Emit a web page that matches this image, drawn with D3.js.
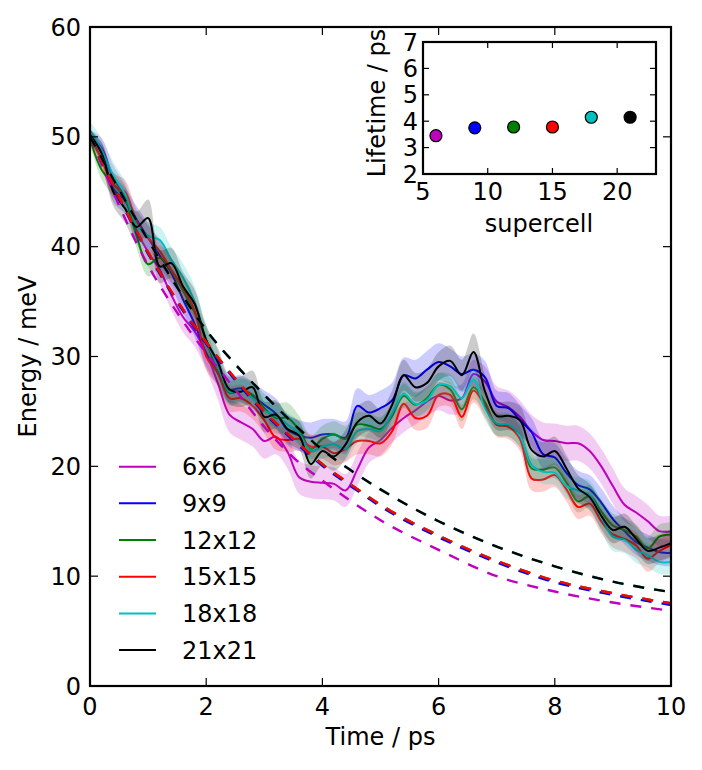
<!DOCTYPE html>
<html><head><meta charset="utf-8">
<script src="https://cdn.jsdelivr.net/npm/d3@7"></script>
<style>body{margin:0;background:#fff}svg{display:block}text{font-family:"DejaVu Sans",sans-serif;fill:#000}</style>
</head><body>
<script>
const times = [0,0.2,0.4,0.6,0.8,1,1.2,1.4,1.6,1.8,2,2.2,2.4,2.6,2.8,3,3.2,3.4,3.6,3.8,4,4.2,4.4,4.6,4.8,5,5.2,5.4,5.6,5.8,6,6.2,6.4,6.6,6.8,7,7.2,7.4,7.6,7.8,8,8.2,8.4,8.6,8.8,9,9.2,9.4,9.6,9.8,10];
const labels = ["6x6","9x9","12x12","15x15","18x18","21x21"];
const colors = ["#bf00bf","#0000ff","#008000","#ff0000","#00bfbf","#000000"];
const e6  = [50.0,49.0,46.3,44.5,41.5,39.5,37.9,35.6,33.6,32.3,30.3,27.6,24.7,24.0,23.4,22.3,22.7,21.3,19.0,18.6,18.5,18.4,17.8,19.7,21.7,22.4,23.5,24.4,25.1,25.9,26.4,26.0,26.2,28.4,27.7,25.9,25.4,24.5,23.2,22.4,22.3,22.1,22.1,21.4,20.0,18.2,16.5,15.8,15.0,14.1,14.1];
const e9  = [50.0,48.6,45.3,44.2,42.5,40.8,39.2,37.6,35.2,33.0,30.3,28.6,27.0,27.1,26.4,25.6,24.8,23.3,22.8,22.6,22.9,22.9,22.6,25.5,24.9,25.3,26.0,28.3,28.0,28.8,29.5,29.1,28.4,28.8,28.1,25.5,25.3,24.2,23.1,21.1,20.8,19.4,18.3,17.9,16.7,15.2,14.1,13.1,12.6,12.2,12.1];
const e12 = [49.8,47.0,45.7,44.4,41.0,38.4,39.0,37.8,36.0,34.0,31.5,28.5,26.7,26.9,26.5,25.3,24.4,24.4,23.3,21.6,22.5,22.9,22.5,23.8,23.7,23.4,24.6,26.4,25.6,26.2,27.4,27.0,25.2,27.2,25.8,23.8,23.7,22.8,19.8,19.7,19.9,18.5,16.8,17.3,15.9,14.6,14.2,13.6,12.5,13.6,13.8];
const e15 = [50.0,48.0,45.6,45.0,42.3,40.8,39.6,37.9,36.3,34.2,30.0,28.5,26.2,26.2,25.5,24.2,22.6,22.4,22.5,21.8,21.8,21.2,21.6,22.3,22.3,22.1,23.2,25.7,24.4,24.6,26.5,26.5,24.5,26.9,25.5,23.8,23.6,22.5,18.9,18.8,19.2,17.9,16.3,16.6,15.0,13.8,13.4,12.8,11.6,12.3,12.8];
const e18 = [50.6,48.8,46.5,44.8,42.0,41.0,40.6,38.8,37.2,35.0,31.5,29.2,26.8,26.9,26.2,25.1,24.6,23.8,23.0,21.4,21.8,22.0,21.6,23.2,23.4,23.2,24.8,26.6,25.7,26.0,27.4,27.3,26.2,27.9,25.3,23.9,23.8,22.8,20.1,19.5,19.4,18.2,17.8,17.4,15.4,13.6,13.3,12.4,11.9,11.3,11.3];
const e21 = [50.2,48.5,45.0,43.5,41.8,42.6,38.2,38.5,36.4,34.8,31.5,29.5,27.0,26.8,27.2,24.5,24.7,23.4,22.8,20.2,21.4,20.9,22.0,24.0,24.6,23.9,25.6,28.3,27.2,27.6,29.1,29.6,28.3,30.4,26.8,24.6,24.6,24.2,21.5,20.9,21.4,19.8,18.0,17.2,15.5,14.2,14.5,13.4,12.3,12.6,13.0];
const err6  = [0.6,0.9,1.1,1.2,1.2,1.3,1.3,1.4,1.4,1.4,1.5,1.5,1.6,1.6,1.6,1.6,1.6,1.5,1.5,1.5,1.5,1.5,1.5,1.5,1.4,1.4,1.3,1.3,1.3,1.3,1.3,1.3,1.3,1.3,1.4,1.4,1.5,1.5,1.5,1.6,1.6,1.6,1.6,1.6,1.6,1.6,1.5,1.5,1.5,1.4,1.4];
const err9  = [0.5,0.9,1.2,1.2,1.2,1.3,1.3,1.3,1.2,1.2,1.2,1.2,1.2,1.2,1.3,1.3,1.4,1.4,1.4,1.4,1.4,1.4,1.5,1.6,1.6,1.6,1.6,1.6,1.7,1.7,1.7,1.6,1.6,1.5,1.5,1.4,1.4,1.4,1.3,1.3,1.3,1.3,1.3,1.3,1.3,1.2,1.2,1.2,1.2,1.2,1.2];
const err12 = [0.5,0.9,1.1,1.1,1.1,1.1,1.1,1.1,1.1,1.1,1.1,1.1,1.1,1.1,1.2,1.3,1.4,1.4,1.3,1.2,1.2,1.2,1.2,1.1,1.1,1.1,1.1,1.1,1.1,1.1,1.1,1.1,1.1,1.1,1.1,1.0,1.0,1.0,1.0,1.0,1.0,1.0,1.0,1.0,1.1,1.1,1.1,1.1,1.1,1.1,1.1];
const err15 = [0.5,0.9,1.1,1.1,1.1,1.1,1.1,1.1,1.1,1.1,1.2,1.2,1.2,1.2,1.2,1.2,1.1,1.1,1.1,1.1,1.1,1.1,1.2,1.2,1.2,1.2,1.2,1.1,1.1,1.1,1.1,1.1,1.1,1.1,1.1,1.1,1.1,1.1,1.1,1.1,1.1,1.1,1.1,1.1,1.1,1.2,1.2,1.2,1.2,1.1,1.1];
const err18 = [0.8,1.1,1.2,1.2,1.2,1.2,1.2,1.2,1.3,1.4,1.4,1.4,1.3,1.2,1.2,1.2,1.2,1.1,1.1,1.1,1.1,1.1,1.1,1.1,1.1,1.1,1.1,1.1,1.1,1.1,1.1,1.1,1.1,1.1,1.1,1.1,1.1,1.1,1.1,1.1,1.1,1.1,1.2,1.3,1.3,1.3,1.2,1.2,1.1,1.1,1.1];
const err21 = [0.5,1.0,1.3,1.3,1.4,1.7,1.5,1.4,1.3,1.3,1.3,1.3,1.3,1.4,1.5,1.4,1.3,1.3,1.3,1.3,1.3,1.3,1.3,1.4,1.4,1.3,1.3,1.4,1.3,1.3,1.3,1.4,1.4,1.7,1.5,1.3,1.3,1.3,1.3,1.3,1.3,1.2,1.2,1.2,1.2,1.2,1.2,1.2,1.2,1.2,1.2];
const fitTimes = [0,1,1.5,2,2.5,3,3.5,4,4.5,5,6,7,8,9,10];
const fit6  = [50,38.3,34.0,30.3,27.0,23.6,20.8,18.7,16.8,15.1,12.4,10.0,8.6,7.6,6.85];
const fit9  = [50,39.35,34.95,31.15,27.85,24.85,22.35,20.05,18.15,16.35,13.55,11.25,9.45,8.3,7.38];
const fit12 = [50,39.5,35.1,31.3,28.0,25.0,22.5,20.2,18.3,16.5,13.7,11.4,9.6,8.45,7.53];
const fit15 = [50,39.5,35.1,31.3,28.0,25.0,22.5,20.2,18.3,16.5,13.7,11.4,9.6,8.45,7.53];
const fit18 = [50,40.6,36.3,32.4,29.3,26.5,23.9,21.5,19.6,17.9,15.0,12.7,10.9,9.5,8.55];
const fit21 = [50,40.6,36.3,32.4,29.3,26.5,23.9,21.5,19.6,17.9,15.0,12.7,10.9,9.5,8.55];
const xTicks = [0,2,4,6,8,10];
const yTicks = [0,10,20,30,40,50,60];
const supercells = [6,9,12,15,18,21];
const lifetimes = [3.45,3.75,3.78,3.78,4.15,4.15];
const insetXTicks = [5,10,15,20];
const insetYTicks = [2,3,4,5,6,7];

const series = [e6,e9,e12,e15,e18,e21];
const errs = [err6,err9,err12,err15,err18,err21];
const fits = [fit6,fit9,fit12,fit15,fit18,fit21];

const W=702,H=770, FS=24;
const svg = d3.select("body").append("svg").attr("width",W).attr("height",H);
const m = {l:90,r:671,t:27,b:686};
const x = d3.scaleLinear().domain([0,10]).range([m.l,m.r]);
const y = d3.scaleLinear().domain([0,60]).range([m.b,m.t]);

svg.append("clipPath").attr("id","clip").append("rect")
  .attr("x",m.l).attr("y",m.t).attr("width",m.r-m.l).attr("height",m.b-m.t);
const plot = svg.append("g").attr("clip-path","url(#clip)");

const curve = d3.curveCatmullRom.alpha(0.5);
series.forEach((s,i)=>{
  const d = times.map((t,j)=>({t, v:s[j], e:errs[i][j]}));
  plot.append("path").datum(d)
    .attr("d", d3.area().curve(curve).x(p=>x(p.t)).y0(p=>y(p.v-p.e)).y1(p=>y(p.v+p.e)))
    .attr("fill", colors[i]).attr("fill-opacity",0.2).attr("stroke","none");
  plot.append("path").datum(d)
    .attr("d", d3.line().curve(curve).x(p=>x(p.t)).y(p=>y(p.v)))
    .attr("fill","none").attr("stroke",colors[i]).attr("stroke-width",2);
});
fits.forEach((f,i)=>{
  const d = fitTimes.map((t,j)=>({t, v:f[j]}));
  plot.append("path").datum(d)
    .attr("d", d3.line().curve(d3.curveMonotoneX).x(p=>x(p.t)).y(p=>y(p.v)))
    .attr("fill","none").attr("stroke",colors[i]).attr("stroke-width",2.4)
    .attr("stroke-dasharray","11,10");
});

// main axes frame + ticks
function frame(g, xs, ys, xt, yt, tl){
  const [x0,x1]=xs.range(), [y0,y1]=ys.range();
  xt.forEach(v=>{
    g.append("line").attr("x1",xs(v)).attr("x2",xs(v)).attr("y1",y0).attr("y2",y0-tl).attr("stroke","#000").attr("stroke-width",1.2);
    g.append("line").attr("x1",xs(v)).attr("x2",xs(v)).attr("y1",y1).attr("y2",y1+tl).attr("stroke","#000").attr("stroke-width",1.2);
  });
  yt.forEach(v=>{
    g.append("line").attr("x1",x0).attr("x2",x0+tl).attr("y1",ys(v)).attr("y2",ys(v)).attr("stroke","#000").attr("stroke-width",1.2);
    g.append("line").attr("x1",x1).attr("x2",x1-tl).attr("y1",ys(v)).attr("y2",ys(v)).attr("stroke","#000").attr("stroke-width",1.2);
  });
  g.append("rect").attr("x",x0).attr("y",y1).attr("width",x1-x0).attr("height",y0-y1)
    .attr("fill","none").attr("stroke","#000").attr("stroke-width",2.2);
}
const ax = svg.append("g");
frame(ax, x, y, xTicks, yTicks, 8);
xTicks.forEach(v=>ax.append("text").attr("x",x(v)).attr("y",m.b+29).attr("text-anchor","middle").attr("font-size",FS).text(v));
yTicks.forEach(v=>ax.append("text").attr("x",m.l-9).attr("y",y(v)).attr("dy","0.36em").attr("text-anchor","end").attr("font-size",FS).text(v));
ax.append("text").attr("x",(m.l+m.r)/2).attr("y",745).attr("text-anchor","middle").attr("font-size",FS).text("Time / ps");
ax.append("text").attr("transform",`translate(36,${(m.t+m.b)/2}) rotate(-90)`).attr("text-anchor","middle").attr("font-size",FS).text("Energy / meV");

// legend
const lg = svg.append("g");
labels.forEach((l,i)=>{
  const yy = 466.7 + i*36.67;
  lg.append("line").attr("x1",119).attr("x2",156).attr("y1",yy).attr("y2",yy).attr("stroke",colors[i]).attr("stroke-width",2);
  lg.append("text").attr("x",182).attr("y",yy).attr("dy","0.36em").attr("font-size",FS).text(l);
});

// inset
const ix = d3.scaleLinear().domain([5,23]).range([423,656]);
const iy = d3.scaleLinear().domain([2,7]).range([174,42]);
const ig = svg.append("g");
ig.append("rect").attr("x",423).attr("y",42).attr("width",233).attr("height",132).attr("fill","#fff");
supercells.forEach((s,i)=>{
  ig.append("circle").attr("cx",ix(s)).attr("cy",iy(lifetimes[i])).attr("r",6)
    .attr("fill",colors[i]).attr("stroke","#000").attr("stroke-width",1.2);
});
frame(ig, ix, iy, insetXTicks, insetYTicks, 6);
insetXTicks.forEach(v=>ig.append("text").attr("x",ix(v)).attr("y",200).attr("text-anchor","middle").attr("font-size",FS).text(v));
insetYTicks.forEach(v=>ig.append("text").attr("x",418).attr("y",iy(v)).attr("dy","0.36em").attr("text-anchor","end").attr("font-size",FS).text(v));
ig.append("text").attr("x",539).attr("y",232).attr("text-anchor","middle").attr("font-size",FS).text("supercell");
ig.append("text").attr("transform",`translate(385,103) rotate(-90)`).attr("text-anchor","middle").attr("font-size",FS).text("Lifetime / ps");
</script>
</body></html>
